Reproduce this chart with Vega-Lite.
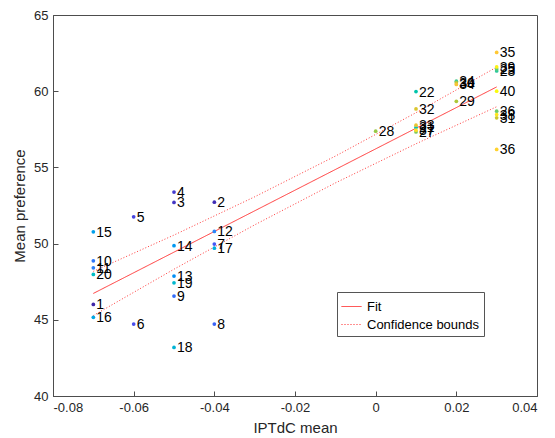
{
  "$schema": "https://vega.github.io/schema/vega-lite/v6.json",
  "width": 484,
  "height": 381,
  "autosize": {"type": "none"},
  "padding": {"left": 53, "top": 15, "right": 18, "bottom": 42},
  "background": "white",
  "config": {
    "view": {"stroke": "#4d4d4d", "strokeWidth": 1},
    "font": "Liberation Sans",
    "axis": {"grid": false, "domainColor": "#4d4d4d", "tickColor": "#4d4d4d", "labelColor": "#262626", "titleColor": "#262626", "labelFontSize": 13, "titleFontSize": 15, "titleFontWeight": "normal", "tickSize": -5, "labelPadding": 10}
  },
  "datasets": {
    "pts": [
      {"id": 1, "x": -0.07, "y": 46.01},
      {"id": 2, "x": -0.04, "y": 52.72},
      {"id": 3, "x": -0.05, "y": 52.70},
      {"id": 4, "x": -0.05, "y": 53.38},
      {"id": 5, "x": -0.06, "y": 51.76},
      {"id": 6, "x": -0.06, "y": 44.72},
      {"id": 7, "x": -0.04, "y": 49.97},
      {"id": 8, "x": -0.04, "y": 44.72},
      {"id": 9, "x": -0.05, "y": 46.56},
      {"id": 10, "x": -0.07, "y": 48.87},
      {"id": 11, "x": -0.07, "y": 48.41},
      {"id": 12, "x": -0.04, "y": 50.80},
      {"id": 13, "x": -0.05, "y": 47.87},
      {"id": 14, "x": -0.05, "y": 49.86},
      {"id": 15, "x": -0.07, "y": 50.77},
      {"id": 16, "x": -0.07, "y": 45.16},
      {"id": 17, "x": -0.04, "y": 49.70},
      {"id": 18, "x": -0.05, "y": 43.19},
      {"id": 19, "x": -0.05, "y": 47.43},
      {"id": 20, "x": -0.07, "y": 47.98},
      {"id": 21, "x": 0.01, "y": 57.62},
      {"id": 22, "x": 0.01, "y": 59.98},
      {"id": 23, "x": 0.03, "y": 61.33},
      {"id": 24, "x": 0.02, "y": 60.66},
      {"id": 25, "x": 0.03, "y": 61.45},
      {"id": 26, "x": 0.03, "y": 58.69},
      {"id": 27, "x": 0.01, "y": 57.33},
      {"id": 28, "x": 0.0, "y": 57.38},
      {"id": 29, "x": 0.02, "y": 59.34},
      {"id": 30, "x": 0.02, "y": 60.55},
      {"id": 31, "x": 0.03, "y": 58.25},
      {"id": 32, "x": 0.01, "y": 58.84},
      {"id": 33, "x": 0.01, "y": 57.77},
      {"id": 34, "x": 0.02, "y": 60.44},
      {"id": 35, "x": 0.03, "y": 62.54},
      {"id": 36, "x": 0.03, "y": 56.18},
      {"id": 37, "x": 0.01, "y": 57.44},
      {"id": 38, "x": 0.03, "y": 58.47},
      {"id": 39, "x": 0.03, "y": 61.59},
      {"id": 40, "x": 0.03, "y": 60.00}
    ],
    "lines": [
      {"series": "fit", "kind": "Fit", "x": -0.07, "y": 46.73},
      {"series": "fit", "kind": "Fit", "x": 0.03, "y": 60.28},
      {"series": "upper", "kind": "Confidence bounds", "x": -0.07, "y": 48.18},
      {"series": "upper", "kind": "Confidence bounds", "x": -0.05, "y": 50.56},
      {"series": "upper", "kind": "Confidence bounds", "x": -0.03, "y": 53.07},
      {"series": "upper", "kind": "Confidence bounds", "x": -0.01, "y": 55.74},
      {"series": "upper", "kind": "Confidence bounds", "x": 0.01, "y": 58.59},
      {"series": "upper", "kind": "Confidence bounds", "x": 0.03, "y": 61.58},
      {"series": "lower", "kind": "Confidence bounds", "x": -0.07, "y": 45.28},
      {"series": "lower", "kind": "Confidence bounds", "x": -0.05, "y": 48.32},
      {"series": "lower", "kind": "Confidence bounds", "x": -0.03, "y": 51.23},
      {"series": "lower", "kind": "Confidence bounds", "x": -0.01, "y": 53.98},
      {"series": "lower", "kind": "Confidence bounds", "x": 0.01, "y": 56.55},
      {"series": "lower", "kind": "Confidence bounds", "x": 0.03, "y": 58.98}
    ]
  },
  "encoding": {
    "x": {"field": "x", "type": "quantitative", "scale": {"domain": [-0.08, 0.04], "nice": false, "zero": false},
      "axis": {"title": "IPTdC mean", "values": [-0.08, -0.06, -0.04, -0.02, 0, 0.02, 0.04], "labelExpr": "datum.value == 0 ? '0' : replace(format(datum.value, '.2f'), '\u2212', '-')", "titlePadding": 6}},
    "y": {"field": "y", "type": "quantitative", "scale": {"domain": [40, 65], "nice": false, "zero": false},
      "axis": {"title": "Mean preference", "values": [40, 45, 50, 55, 60, 65], "titlePadding": 6}}
  },
  "layer": [
    {
      "data": {"name": "lines"},
      "mark": {"type": "line", "color": "#f22", "strokeWidth": 0.9},
      "encoding": {
        "detail": {"field": "series"},
        "strokeDash": {"field": "kind", "type": "nominal", "scale": {"domain": ["Fit", "Confidence bounds"], "range": [[1, 0], [1, 2]]},
          "legend": {"title": null, "orient": "none", "legendX": 284, "legendY": 277, "symbolType": "stroke", "symbolStrokeColor": "#f22", "symbolStrokeWidth": 1, "symbolSize": 400, "labelFontSize": 13, "labelColor": "#000", "strokeColor": "#555", "fillColor": "white", "padding": 4, "rowPadding": 0, "labelOffset": 5}}
      }
    },
    {
      "data": {"name": "pts"},
      "mark": {"type": "circle", "size": 14, "opacity": 1},
      "encoding": {
        "color": {"field": "id", "type": "quantitative", "legend": null,
          "scale": {"domain": [1, 6.571, 12.143, 17.714, 23.286, 28.857, 34.429, 40], "range": ["#3E26A8", "#4852F4", "#2D87F7", "#11B1D6", "#37C897", "#ABC739", "#FEC338", "#F9FB0E"]}}
      }
    },
    {
      "data": {"name": "pts"},
      "mark": {"type": "text", "align": "left", "baseline": "middle", "dx": 3, "dy": 1, "fontSize": 14, "color": "#000"},
      "encoding": {"text": {"field": "id", "type": "nominal"}}
    }
  ]
}
